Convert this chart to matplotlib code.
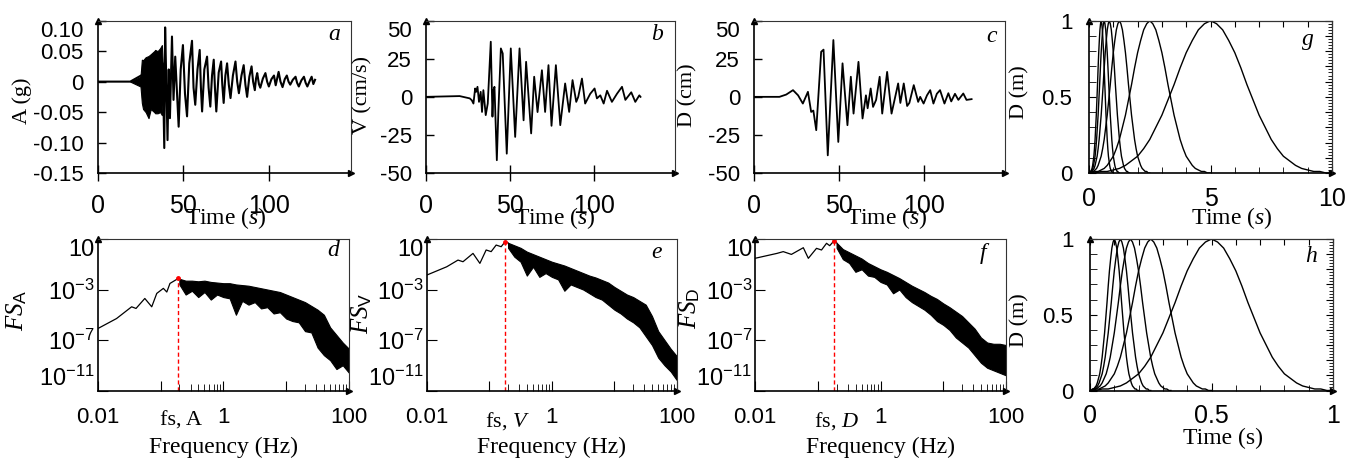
import numpy as np
import matplotlib
matplotlib.use("Agg")
import matplotlib.pyplot as plt
from matplotlib.ticker import FixedLocator, NullFormatter, NullLocator
from matplotlib.transforms import blended_transform_factory

plt.rcParams["font.family"] = "Liberation Sans"
plt.rcParams["axes.unicode_minus"] = False
plt.rcParams["mathtext.fontset"] = "custom"
plt.rcParams["mathtext.rm"] = "Liberation Serif"
plt.rcParams["mathtext.it"] = "Liberation Serif:italic"
plt.rcParams["mathtext.sf"] = "Liberation Sans"

# ---- a: acceleration record (g) ----
# dense part at the start drawn as an envelope
acc_env_t = [19, 22, 25, 25.8, 26.5, 28, 29.7, 31, 33, 33.6, 35, 36.5, 37.5, 38]
acc_env_hi = [0, 0.004, 0.008, 0.036, 0.035, 0.04, 0.042, 0.045, 0.05, 0.052, 0.05, 0.055, 0.06, 0.03]
acc_env_lo = [0, -0.004, -0.008, -0.035, -0.045, -0.05, -0.06, -0.045, -0.05, -0.052, -0.052, -0.05, -0.055, -0.03]
acc_t = [0, 19, 38.0, 38.9, 39.4, 40.0, 40.8, 41.5, 42.2, 43.4, 44.3, 45.3, 47.3, 48.5, 49.8, 51.0,
         52.2, 53.5, 55.1, 56.0, 57.0, 58.3, 59.6, 60.3, 61.0, 62.3, 63.9, 64.8, 65.8, 66.8, 67.8,
         68.5, 69.3, 70.7, 72.1, 72.8, 73.6, 74.6, 75.6, 76.6, 77.6, 79.0, 80.5, 81.5, 82.5, 84.0,
         85.3, 86.3, 87.3, 88.6, 89.9, 90.8, 91.8, 92.5, 93.2, 94.2, 95.0, 96.5, 98.0, 99.0, 100.0,
         101.5, 103.0, 104.0, 105.7, 106.8, 108.0, 109.3, 110.5, 111.5, 112.5, 114.0, 115.6, 116.5,
         117.5, 119.0, 120.5, 121.5, 122.5, 124.0, 125.0, 126.0, 127.0]
acc = [0, 0, 0.03, -0.109, 0.089, 0.01, -0.096, 0.02, -0.06, 0.074, -0.03, 0.041, -0.074, 0.02, 0.06,
       -0.02, -0.057, 0.03, 0.067, -0.01, -0.038, 0.02, 0.052, -0.01, -0.049, 0.02, 0.041, -0.01,
       -0.041, 0.01, 0.036, -0.01, -0.049, 0.015, 0.033, -0.005, -0.035, 0.01, 0.030, -0.005, -0.027,
       0.01, 0.033, 0.0, -0.019, 0.01, 0.027, -0.005, -0.025, 0.008, 0.025, 0.0, -0.014, 0.005, 0.014,
       -0.004, -0.01, 0.005, 0.014, 0.0, -0.008, 0.004, 0.01, -0.006, 0.016, 0.0, -0.009, 0.004, 0.01,
       0.0, -0.005, 0.003, 0.008, -0.002, -0.008, 0.002, 0.008, -0.002, -0.008, 0.002, 0.008, -0.004, 0.003]

# ---- b: velocity record (cm/s) ----
vel_t = [0, 20, 26, 27.2, 28.2, 29.2, 29.8, 30.6, 31.5, 32.5, 33.3, 34.1, 35.5, 36.7, 38.5, 39.5,
         40.1, 40.7, 42.1, 43.0, 44.5, 45.6, 48.0, 50.4, 53.0, 55.6, 58.0, 59.5, 62.5, 64.3, 66.3,
         68.9, 70.8, 72.8, 74.6, 77.2, 79.8, 82.7, 85.1, 87.1, 89.3, 90.5, 92.7, 94.6, 97.6, 100.2,
         101.6, 103.6, 105.6, 107.6, 110.5, 113.5, 116.5, 118.5, 122.0, 124.4, 126.8, 127.5]
vel = [0, 0.5, -1.0, -2.2, -4.4, 5.5, 3.3, 6.6, -3.3, 3.3, -9.9, 4.4, -12, -4.4, 36.2, -13,
       4.4, 6.6, -41.6, -10, 31.8, 28.5, -37.3, 31.8, -26.3, 31.8, -15.4, 23, -24, 13.2, -10,
       17.5, -9.9, 20.8, -19, 20.8, -18.6, 8.8, -9.9, 11, -3.3, 0, 12, -4.4, 2, 5.5,
       -1, 1, -4.4, 4, -3.3, 2, 6.6, -2, 3, -3.3, 1, 0]

# ---- c: displacement record (cm) ----
dis_t = [0, 15, 19, 23, 26, 28.8, 31.8, 33.7, 35.0, 36.7, 39.6, 41.0, 43.5, 46.8, 49.7, 52.2, 55.1,
         57.1, 58.7, 61.6, 64.0, 66.0, 67.0, 68.8, 70.2, 72.0, 74.1, 75.6, 78.5, 81.1, 85.0, 86.3,
         88.3, 90.3, 91.6, 94.2, 96.8, 98.0, 100.0, 102.0, 103.9, 105.8, 107.8, 109.7, 112.3, 114.6,
         116.3, 118.5, 120.5, 123.4, 125.3, 128.3]
dis = [0, 0, 1.5, 4.4, 1, -4.4, 3.3, -9.9, -9, -21.9, 29.6, 31, -38.4, 37.3, -29.6, 22, -18.6,
       13.2, -11, 23, -14.2, 1, -7.5, 5.5, -6.6, -2, 13.2, -11, 16.4, -11, 8.8, -4,
       8.8, -6, -4, 7.7, -3.3, 0, -4.4, 1, 4.4, -4.4, 2, 4.4, -4.4, 2.4,
       -3, 2, -2, 2.2, -2, -1.5]

# ---- d, e, f: Fourier spectra, log10 values ----
fsa_smooth_lf = [-2.0, -1.7, -1.46, -1.39, -1.25, -1.14, -1.06, -0.955, -0.9, -0.85, -0.716]
fsa_smooth = [-6.1, -5.3, -4.37, -4.5, -3.71, -4.37, -3.31, -2.91, -3.2, -2.52, -2.12]
fsv_smooth_lf = [-2.0, -1.68, -1.5, -1.42, -1.26, -1.15, -1.05, -0.97, -0.89, -0.81, -0.746]
fsv_smooth = [-1.86, -1.2, -0.67, -0.8, -0.14, -0.93, 0.13, 0.0, 0.52, 0.39, 0.79]
fsd_smooth_lf = [-2.0, -1.65, -1.55, -1.42, -1.23, -1.15, -1.02, -0.94, -0.86, -0.81, -0.743]
fsd_smooth = [-0.53, -0.14, 0.0, -0.22, 0.31, -0.53, 0.26, 0.13, 0.66, 0.47, 0.84]

band_lf = [-0.7, -0.6, -0.5, -0.4, -0.3, -0.2, -0.1, 0.0, 0.1, 0.2, 0.3, 0.4, 0.5, 0.6, 0.7,
           0.8, 0.9, 1.0, 1.1, 1.2, 1.3, 1.4, 1.5, 1.6, 1.7, 1.8, 1.9, 2.0]
fsa_hi = [-2.15, -2.3, -2.3, -2.35, -2.3, -2.4, -2.45, -2.5, -2.5, -2.6, -2.65, -2.7, -2.8, -2.9,
          -3.0, -3.1, -3.2, -3.4, -3.6, -3.8, -4.0, -4.3, -4.6, -5.0, -6.0, -6.6, -7.2, -7.7]
fsa_lo = [-2.6, -3.4, -3.1, -3.6, -3.2, -3.8, -3.4, -3.6, -3.7, -5.0, -3.9, -4.2, -4.0, -4.5,
          -4.4, -4.9, -4.8, -5.3, -5.5, -5.6, -6.3, -6.4, -7.6, -8.2, -8.6, -9.3, -9.0, -9.6]
fsv_hi = [0.7, 0.5, 0.3, 0.0, -0.2, -0.4, -0.6, -0.8, -0.95, -1.1, -1.3, -1.5, -1.7, -1.9,
          -2.05, -2.25, -2.45, -2.8, -3.1, -3.4, -3.6, -3.9, -4.2, -5.1, -6.3, -7.0, -7.7, -8.3]
fsv_lo = [0.3, -0.4, -0.8, -1.9, -1.2, -2.0, -1.7, -2.0, -2.2, -3.1, -2.6, -2.8, -3.0, -3.3,
          -3.6, -3.8, -4.2, -4.6, -4.9, -5.3, -5.6, -6.0, -6.7, -7.4, -8.4, -9.0, -9.5, -10.2]
fsd_hi = [0.7, 0.2, -0.05, -0.3, -0.55, -0.9, -1.15, -1.4, -1.6, -1.85, -2.1, -2.4, -2.7, -2.95,
          -3.2, -3.5, -3.75, -4.1, -4.4, -4.75, -5.1, -5.6, -6.1, -6.8, -7.2, -7.3, -7.3, -7.4]
fsd_lo = [0.3, -0.6, -0.9, -1.6, -1.4, -1.9, -2.0, -2.4, -2.6, -3.3, -3.0, -3.6, -4.0, -4.3,
          -4.6, -5.0, -5.5, -5.8, -6.2, -6.8, -7.2, -7.6, -8.2, -8.8, -9.2, -9.4, -9.6, -9.8]
fs_freq = [0.19, 0.18, 0.18]
fs_names = ["fs, A", "fs, $\\mathit{V}$", "fs, $\\mathit{D}$"]

# ---- g, h: pulse displacement histories ----
pulse_half = [0, 0, 0.01, 0.01, 0.02, 0.03, 0.05, 0.08, 0.11, 0.16, 0.22, 0.30, 0.38, 0.48,
              0.58, 0.69, 0.79, 0.87, 0.94, 0.98, 1.0]
g_durations = [1.0, 1.25, 1.67, 2.5, 5.0, 10.0]
h_durations = [0.2, 0.25, 0.333, 0.5, 1.0]

W, H = 1360, 461
fig = plt.figure(figsize=(13.6, 4.61), dpi=100)


def add_ax(l, t, r, b):
    return fig.add_axes([l / W, 1 - b / H, (r - l) / W, (b - t) / H])


def ftext(x, y, s, **kw):
    fig.text(x / W, 1 - y / H, s, ha="center", va="center", **kw)


def frame(ax):
    for side in ["top", "right"]:
        ax.spines[side].set_linewidth(0.8)
        ax.spines[side].set_color("#333333")
    for side in ["left", "bottom"]:
        ax.spines[side].set_linewidth(1.2)
    ax.plot([0], [1], marker="^", color="k", ms=5, transform=ax.transAxes, clip_on=False)
    ax.plot([1], [0], marker=">", color="k", ms=5, transform=ax.transAxes, clip_on=False)


TOP, BOT = 20.7, 173
TOP2, BOT2 = 239, 390.5

# ---- top row time series ----
specs = [
    (97.7, 351, acc_t, acc, 1.5, (-0.15, 0.10), [-0.15, -0.10, -0.05, 0, 0.05, 0.10],
     ["-0.15", "-0.10", "-0.05", "0", "0.05", "0.10"], "a", (334, 34)),
    (426, 675, vel_t, vel, 1.3, (-50, 50), [-50, -25, 0, 25, 50],
     ["-50", "-25", "0", "25", "50"], "b", (657, 34)),
    (754, 1005, dis_t, dis, 1.3, (-50, 50), [-50, -25, 0, 25, 50],
     ["-50", "-25", "0", "25", "50"], "c", (992, 36)),
]
ts_axes = []
for l, r, t, v, lw, ylim, yt, ytl, letter, lpos in specs:
    ax = add_ax(l, TOP, r, BOT)
    ax.plot(t, v, color="k", lw=lw)
    ax.set_xlim(0, 148)
    ax.set_ylim(*ylim)
    ax.set_xticks([0, 50, 100])
    ax.set_yticks(yt)
    ax.set_yticklabels(ytl)
    ax.tick_params(axis="x", direction="inout", length=12, width=1, labelsize=18, pad=9)
    ax.tick_params(axis="y", direction="in", length=6, width=1, labelsize=16, pad=10)
    ax.get_yticklabels()[-1].set_va("top")
    frame(ax)
    ftext(lpos[0], lpos[1], letter, family="Liberation Serif", style="italic", fontsize=17)
    ts_axes.append(ax)

ts_axes[0].fill_between(acc_env_t, acc_env_lo, acc_env_hi, color="k", lw=0.8)

ftext(22, 101, "A (g)", family="Liberation Serif", fontsize=16, rotation=90)
ftext(363, 95, "V (cm/s)", family="Liberation Serif", fontsize=16, rotation=90)
ftext(688, 95, "D (cm)", family="Liberation Serif", fontsize=16, rotation=90)
for x in [226, 555, 887, 1232]:
    ftext(x, 218, "Time ($\\mathit{s}$)", family="Liberation Serif", fontsize=17)


# ---- pulse panels ----
def pulse_panel(l, t, r, b, durations, xmax, xmajor, xminor, letter, lpos):
    ax = add_ax(l, t, r, b)
    shape = np.array(pulse_half + pulse_half[-2::-1])
    frac = np.linspace(0, 1, len(shape))
    for d in durations:
        ax.plot(frac * d, shape, color="k", lw=1.0)
    ax.set_xlim(0, xmax)
    ax.set_ylim(0, 1)
    ax.set_xticks(xmajor)
    ax.set_xticklabels([f"{v:g}" for v in xmajor])
    ax.xaxis.set_minor_locator(FixedLocator(xminor))
    ax.set_yticks([0, 0.5, 1])
    ax.set_yticklabels(["0", "0.5", "1"])
    ax.yaxis.set_minor_locator(FixedLocator(np.arange(0.1, 1.0, 0.1)))
    ax.tick_params(axis="x", which="major", direction="in", length=6, labelsize=18, pad=10)
    ax.tick_params(axis="x", which="minor", direction="in", length=4)
    ax.tick_params(axis="y", which="both", direction="in", length=5, labelsize=16, pad=12)
    sx = ax.secondary_xaxis("top")
    sx.set_xticks(xminor + xmajor)
    sx.tick_params(direction="in", length=4, labeltop=False)
    sy = ax.secondary_yaxis("right")
    sy.set_yticks(np.arange(0, 1.001, 0.1))
    sy.yaxis.set_minor_locator(FixedLocator(np.arange(0, 1.001, 0.02)))
    sy.tick_params(which="major", direction="in", length=5, labelright=False)
    sy.tick_params(which="minor", direction="in", length=3)
    frame(ax)
    ftext(lpos[0], lpos[1], letter, family="Liberation Serif", style="italic", fontsize=17)
    return ax


pulse_panel(1089, TOP, 1332, BOT, g_durations, 10, [0, 5, 10],
            [1, 2, 3, 4, 6, 7, 8, 9], "g", (1308, 40))
pulse_panel(1090, TOP2, 1333, BOT2, h_durations, 1, [0, 0.5, 1],
            [0.1, 0.2, 0.3, 0.4, 0.6, 0.7, 0.8, 0.9], "h", (1311, 257))
ftext(1020, 92, "D (m)", family="Liberation Serif", fontsize=16, rotation=90)
ftext(1020, 320, "D (m)", family="Liberation Serif", fontsize=16, rotation=90)
ftext(1223, 438, "Time (s)", family="Liberation Serif", fontsize=17)

# ---- spectra ----
spec = [
    (97.7, 349, fsa_smooth_lf, fsa_smooth, fsa_hi, fsa_lo, "d", (333, 250), "A", (17, 310)),
    (426.7, 677, fsv_smooth_lf, fsv_smooth, fsv_hi, fsv_lo, "e", (657, 252), "V", (362, 313)),
    (755, 1006, fsd_smooth_lf, fsd_smooth, fsd_hi, fsd_lo, "f", (983, 254), "D", (690, 308)),
]
for i, (l, r, slf, sv, hi, lo, letter, lpos, sub, ypos) in enumerate(spec):
    ax = add_ax(l, TOP2, r, BOT2)
    ax.set_xscale("log")
    ax.set_yscale("log")
    f_s = 10.0 ** np.array(slf)
    ax.plot(f_s, 10.0 ** np.array(sv), color="k", lw=0.9)
    fb = 10.0 ** np.array(band_lf)
    ax.fill_between(fb, 10.0 ** np.array(lo), 10.0 ** np.array(hi), color="k", lw=0.8)
    ax.plot([f_s[-1], fb[0]], [10.0 ** sv[-1], 10.0 ** hi[0]], color="k", lw=0.9)
    peak = 10.0 ** sv[-1]
    ax.plot([fs_freq[i], fs_freq[i]], [1e-11, peak], color="red", lw=1.0, ls=(0, (3, 2)))
    ax.plot([fs_freq[i]], [peak], "o", color="red", ms=2.5)
    ax.set_xlim(0.01, 100)
    ax.set_ylim(1e-11, 10)
    ax.xaxis.set_major_locator(FixedLocator([0.01, 0.1, 1, 10, 100]))
    ax.set_xticklabels(["0.01", "", "1", "", "100"])
    ax.xaxis.set_minor_locator(FixedLocator([0.2, 0.3, 0.4, 0.5, 0.6, 0.7, 0.8, 0.9,
                                             20, 30, 40, 50, 60, 70, 80, 90]))
    ax.xaxis.set_minor_formatter(NullFormatter())
    ax.yaxis.set_major_locator(FixedLocator([1e-11, 1e-7, 1e-3, 10]))
    ax.yaxis.set_minor_locator(NullLocator())
    ax.set_yticklabels(["$\\mathregular{10^{-11}}$", "$\\mathregular{10^{-7}}$",
                        "$\\mathregular{10^{-3}}$", "10"])
    ax.tick_params(axis="x", which="major", direction="in", length=7, labelsize=16, pad=12)
    ax.tick_params(axis="x", which="minor", direction="in", length=5)
    ax.tick_params(axis="y", direction="in", length=7, labelsize=17, pad=2)
    ylabs = ax.get_yticklabels()
    ylabs[-1].set_va("top")
    ylabs[0].set_va("bottom")
    frame(ax)
    trans = blended_transform_factory(ax.transData, ax.transAxes)
    ax.text(fs_freq[i] * 1.1, -0.2, fs_names[i], transform=trans, ha="center", va="center",
            family="Liberation Serif", fontsize=16)
    ftext(lpos[0], lpos[1], letter, family="Liberation Serif", style="italic", fontsize=17)
    ftext(ypos[0], ypos[1], "$\\mathit{FS}_{\\mathsf{" + sub + "}}$", fontsize=18, rotation=90)
    ftext((l + r) / 2, 447, "Frequency (Hz)", family="Liberation Serif", fontsize=17)

fig.savefig("out.png", dpi=100)
